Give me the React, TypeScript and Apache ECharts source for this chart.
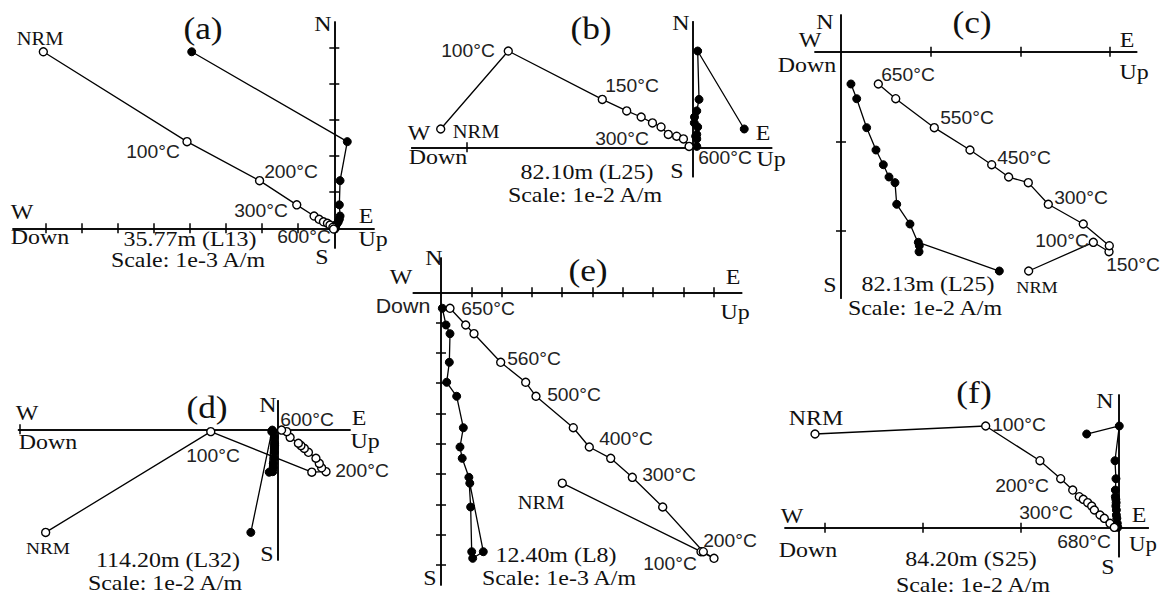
import { useEffect, useRef } from 'react';
import * as echarts from 'echarts';

// ---------------- DATA (values in units of each panel's scale) ----------------
// Each step: north (shared vertical axis), east (solid symbols, horizontal plane), up (open symbols, vertical plane)

// (a) 35.77m (L13), scale 1e-3 A/m
const aNorth = [4.89, 2.40, 1.32, 0.65, 0.34, 0.25, 0.18, 0.14, 0.09, 0.03, -0.02];
const aEast = [-3.95, 0.36, 0.16, 0.14, 0.16, 0.14, 0.11, 0.08, 0.05, 0.03, 0.02];
const aUp = [-8.06, -4.08, -2.07, -1.04, -0.56, -0.42, -0.30, -0.19, -0.12, -0.04, -0.02];

// (b) 82.10m (L25), scale 1e-2 A/m
const bNorth = [0.081, 0.426, 0.212, 0.161, 0.134, 0.108, 0.090, 0.057, 0.049, 0.037, 0.004];
const bEast = [0.228, 0.022, 0.028, 0.018, 0.008, 0.007, 0.022, 0.018, 0.013, 0.018, 0.018];
const bUp = [-1.115, -0.816, -0.400, -0.292, -0.228, -0.178, -0.140, -0.108, -0.071, -0.041, -0.016];

// (c) 82.13m (L25), scale 1e-2 A/m
const cNorth = [-2.445, -2.125, -2.230, -2.163, -1.921, -1.701, -1.460, -1.397, -1.260, -1.096, -0.847, -0.524, -0.360];
const cEast = [1.765, 0.862, 0.870, 0.873, 0.769, 0.621, 0.602, 0.535, 0.472, 0.390, 0.286, 0.175, 0.111];
const cUp = [2.092, 2.813, 2.988, 2.991, 2.701, 2.311, 2.088, 1.869, 1.680, 1.438, 1.040, 0.610, 0.416];

// (d) 114.20m (L32), scale 1e-2 A/m
const dNorth = [-0.399, -0.009, -0.166, -0.164, -0.149, -0.132, -0.112, -0.089, -0.074, -0.063, -0.054, -0.031, -0.009, -0.003];
const dEast = [-0.104, -0.023, -0.033, -0.019, -0.017, -0.017, -0.014, -0.013, -0.013, -0.012, -0.012, -0.013, -0.017, -0.021];
const dUp = [-0.898, -0.259, 0.132, 0.187, 0.170, 0.161, 0.148, 0.119, 0.103, 0.090, 0.080, 0.048, 0.035, 0.015];

// (e) 12.40m (L8), scale 1e-3 A/m
const eNorth = [-6.30, -8.561, -8.779, -8.561, -7.086, -6.106, -5.479, -5.106, -4.469, -3.432, -2.970, -2.310, -1.366, -1.079, -0.528];
const eEast = [0.95, 1.396, 1.046, 1.013, 0.979, 0.92, 0.70, 0.627, 0.737, 0.517, 0.187, 0.275, 0.297, 0.165, 0.044];
const eUp = [4.003, 8.581, 9.010, 8.657, 7.317, 6.314, 5.601, 4.894, 4.366, 3.135, 2.795, 1.970, 1.089, 0.815, 0.297];

// (f) 84.20m (S25), scale 1e-2 A/m
const fNorth = [0.958, 1.040, 0.685, 0.501, 0.385, 0.317, 0.290, 0.256, 0.222, 0.181, 0.130, 0.096, 0.045, 0.004];
const fEast = [-0.323, 0.010, -0.034, -0.024, -0.030, -0.030, -0.025, -0.022, -0.025, -0.020, -0.020, -0.015, -0.010, -0.005];
const fUp = [-3.101, -1.356, -0.801, -0.589, -0.466, -0.399, -0.358, -0.313, -0.272, -0.245, -0.187, -0.143, -0.085, -0.041];

// Tick values (in scale units)
const aXTicks = [-8, -7, -6, -5, -4, -3, -2, -1];
const aYTicks = [1, 2, 3, 4, 5];
const bXTicks = [-1];
const bYTicks: number[] = [];
const cXTicks = [1, 2, 3];
const cYTicks = [-1, -2];
const dXTicks = [-1];
const dYTicks: number[] = [];
const eXTicks = [1, 2, 3, 4, 5, 6, 7, 8, 9];
const eYTicks = [-1, -2, -3, -4, -5, -6, -7, -8, -9];
const fXTicks = [-1, -2, -3];
const fYTicks: number[] = [];

// ---------------- LAYOUT (pixels) ----------------
const layouts = [
  { north: aNorth, east: aEast, up: aUp, xt: aXTicks, yt: aYTicks, ox: 334.3, oy: 228.3, unit: 36.1, x0: 13, x1: 374, y0: 22, y1: 248 },
  { north: bNorth, east: bEast, up: bUp, xt: bXTicks, yt: bYTicks, ox: 692.7, oy: 147.3, unit: 226, x0: 411.7, x1: 771.7, y0: 21.7, y1: 176.7 },
  { north: cNorth, east: cEast, up: cUp, xt: cXTicks, yt: cYTicks, ox: 841, oy: 51.7, unit: 89.7, x0: 815, x1: 1136.7, y0: 15, y1: 298.3 },
  { north: dNorth, east: dEast, up: dUp, xt: dXTicks, yt: dYTicks, ox: 277.7, oy: 429.3, unit: 258.4, x0: 18.5, x1: 350, y0: 400.7, y1: 560 },
  { north: eNorth, east: eEast, up: eUp, xt: eXTicks, yt: eYTicks, ox: 441, oy: 292.3, unit: 30.3, x0: 413.3, x1: 741.7, y0: 258, y1: 585 },
  { north: fNorth, east: fEast, up: fUp, xt: fXTicks, yt: fYTicks, ox: 1118.3, oy: 527.7, unit: 97.8, x0: 785, x1: 1148.3, y0: 395, y1: 556.7 },
];

const SERIF = '"Liberation Serif", "Times New Roman", serif';
const SANS = '"Liberation Sans", Arial, sans-serif';

// [text, x, y, family, size]  s = serif, a = sans
type T = [string, number, number, 's' | 'a', number];
const texts: T[] = [
  // (a)
  ['(a)', 203, 28, 's', 31], ['N', 323, 24, 's', 21], ['W', 22, 212, 's', 21], ['E', 366, 216, 's', 21],
  ['Down', 40, 237, 's', 21], ['Up', 373, 239, 's', 21], ['S', 322, 257, 's', 21],
  ['35.77m (L13)', 190, 239, 's', 21], ['Scale: 1e-3 A/m', 188, 260, 's', 21],
  ['NRM', 40, 39, 's', 18], ['100°C', 153, 152, 'a', 18], ['200°C', 291, 172, 'a', 18],
  ['300°C', 261, 211, 'a', 18], ['600°C', 304, 237, 'a', 18],
  // (b)
  ['(b)', 591, 28, 's', 31], ['N', 681, 23, 's', 21], ['100°C', 468, 51, 'a', 18], ['150°C', 632, 86, 'a', 18],
  ['W', 419, 133, 's', 21], ['NRM', 476, 132, 's', 18], ['300°C', 622, 139, 'a', 18], ['E', 763, 133, 's', 21],
  ['Down', 438, 157, 's', 21], ['S', 677, 171, 's', 21], ['600°C', 725, 158, 'a', 18], ['Up', 771, 159, 's', 21],
  ['82.10m (L25)', 587, 172, 's', 21], ['Scale: 1e-2 A/m', 585, 195, 's', 21],
  // (c)
  ['(c)', 972, 22, 's', 31], ['N', 825, 22, 's', 21], ['W', 810, 40, 's', 21], ['E', 1127, 40, 's', 21],
  ['Down', 807, 65, 's', 21], ['Up', 1134, 72, 's', 21], ['650°C', 908, 75, 'a', 18], ['550°C', 967, 118, 'a', 18],
  ['450°C', 1024, 158, 'a', 18], ['300°C', 1081, 198, 'a', 18], ['100°C', 1062, 241, 'a', 18],
  ['150°C', 1133, 265, 'a', 18], ['NRM', 1037, 288, 's', 16], ['S', 830, 285, 's', 21],
  ['82.13m (L25)', 928, 284, 's', 21], ['Scale: 1e-2 A/m', 925, 308, 's', 21],
  // (d)
  ['(d)', 207, 407, 's', 31], ['N', 268, 405, 's', 21], ['W', 27, 413, 's', 21], ['600°C', 307, 420, 'a', 18],
  ['E', 359, 418, 's', 21], ['Down', 48, 442, 's', 21], ['Up', 365, 441, 's', 21], ['100°C', 213, 456, 'a', 18],
  ['200°C', 362, 471, 'a', 18], ['NRM', 48, 548, 's', 17], ['S', 267, 554, 's', 21],
  ['114.20m (L32)', 168, 560, 's', 21], ['Scale: 1e-2 A/m', 165, 583, 's', 21],
  // (e)
  ['(e)', 588, 270, 's', 31], ['N', 434, 258, 's', 21], ['W', 401, 277, 's', 21], ['E', 733, 277, 's', 21],
  ['Down', 403, 306, 'a', 20], ['Up', 735, 312, 's', 21], ['650°C', 488, 309, 'a', 18], ['560°C', 534, 359, 'a', 18],
  ['500°C', 574, 395, 'a', 18], ['400°C', 626, 439, 'a', 18], ['300°C', 669, 475, 'a', 18],
  ['NRM', 541, 503, 's', 18], ['200°C', 730, 541, 'a', 18], ['100°C', 670, 564, 'a', 18],
  ['12.40m (L8)', 556, 555, 's', 21], ['Scale: 1e-3 A/m', 559, 578, 's', 21], ['S', 430, 578, 's', 21],
  // (f)
  ['(f)', 974, 392, 's', 31], ['N', 1105, 401, 's', 21], ['NRM', 816, 418, 's', 21], ['100°C', 1019, 425, 'a', 18],
  ['200°C', 1022, 486, 'a', 18], ['300°C', 1046, 513, 'a', 18], ['W', 792, 516, 's', 21], ['E', 1139, 515, 's', 21],
  ['680°C', 1084, 542, 'a', 18], ['Up', 1143, 544, 's', 20], ['Down', 808, 550, 's', 21],
  ['84.20m (S25)', 971, 559, 's', 21], ['S', 1108, 567, 's', 21], ['Scale: 1e-2 A/m', 973, 585, 's', 21],
];

export default function App() {
  const ref = useRef<HTMLDivElement>(null);
  useEffect(() => {
    if (!ref.current) return;
    const chart = echarts.init(ref.current, undefined, { renderer: 'svg' });
    const grid: any[] = [];
    const xAxis: any[] = [];
    const yAxis: any[] = [];
    const series: any[] = [];
    const lineCol = '#000';
    layouts.forEach((L, i) => {
      grid.push({ left: L.x0, top: L.y0, width: L.x1 - L.x0, height: L.y1 - L.y0, containLabel: false });
      const xmin = (L.x0 - L.ox) / L.unit;
      const xmax = (L.x1 - L.ox) / L.unit;
      const ymax = (L.oy - L.y0) / L.unit;
      const ymin = (L.oy - L.y1) / L.unit;
      const xi = xAxis.length;
      const yi = yAxis.length;
      [false, true].forEach((inside) => {
        xAxis.push({
          type: 'value', gridIndex: i, min: xmin, max: xmax, position: 'bottom',
          axisLine: { show: true, onZero: true, onZeroAxisIndex: yi, lineStyle: { color: lineCol, width: 1.5 } },
          axisTick: { show: L.xt.length > 0, inside, length: 5, customValues: L.xt, lineStyle: { color: lineCol, width: 1.5 } },
          axisLabel: { show: false }, splitLine: { show: false },
        });
        yAxis.push({
          type: 'value', gridIndex: i, min: ymin, max: ymax, position: 'left',
          axisLine: { show: true, onZero: true, onZeroAxisIndex: xi, lineStyle: { color: lineCol, width: 1.5 } },
          axisTick: { show: L.yt.length > 0, inside, length: 5, customValues: L.yt, lineStyle: { color: lineCol, width: 1.5 } },
          axisLabel: { show: false }, splitLine: { show: false },
        });
      });
      series.push({
        type: 'line', xAxisIndex: xi, yAxisIndex: yi, clip: false, silent: true,
        data: L.east.map((e, k) => [e, L.north[k]]),
        symbol: 'circle', symbolSize: 8,
        itemStyle: { color: '#000', borderColor: '#000', borderWidth: 1 },
        lineStyle: { color: lineCol, width: 1.3 }, z: 3,
      });
      series.push({
        type: 'line', xAxisIndex: xi, yAxisIndex: yi, clip: false, silent: true,
        data: L.up.map((u, k) => [u, L.north[k]]),
        symbol: 'circle', symbolSize: 8, showAllSymbol: true,
        itemStyle: { color: '#fff', borderColor: '#000', borderWidth: 1.4 },
        lineStyle: { color: lineCol, width: 1.3 }, z: 4,
      });
    });
    const graphic = texts.map(([t, x, y, fam, size]) => ({
      type: 'text', x, y, silent: true, z: 10,
      scaleX: fam === 's' ? 1.14 : 1.07,
      style: {
        text: t, font: `${size}px ${fam === 's' ? SERIF : SANS}`, fill: fam === 's' ? '#111' : '#222',
        align: 'center', verticalAlign: 'middle', textAlign: 'center', textVerticalAlign: 'middle',
      },
    }));
    chart.setOption({ animation: false, backgroundColor: '#fff', grid, xAxis, yAxis, series, graphic });
    return () => chart.dispose();
  }, []);
  return <div ref={ref} style={{ position: 'fixed', left: 0, top: 0, width: 1160, height: 597 }} />;
}
